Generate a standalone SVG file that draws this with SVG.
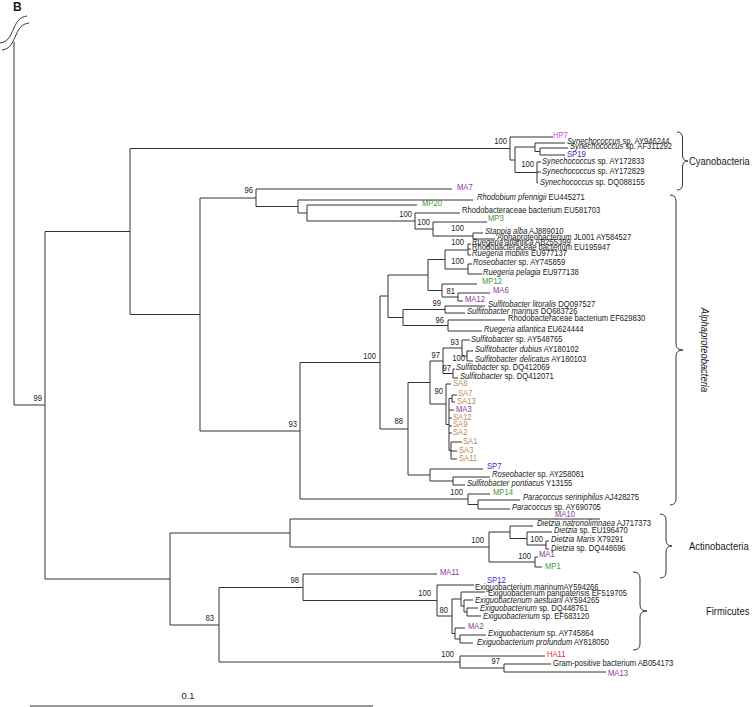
<svg xmlns="http://www.w3.org/2000/svg" width="754" height="707" viewBox="0 0 754 707">
<style>
text{font-family:"Liberation Sans",Arial,sans-serif;font-size:9.3px;fill:#1a1a1a}
.i{font-style:italic}
.bs{text-anchor:end;fill:#222}
.ma{fill:#8e35a0}.mp{fill:#3c9a3c}.sp{fill:#2e2ed0}.sa{fill:#b58b5a}.hp{fill:#e040e0}.ha{fill:#e8302a}
.grp{font-size:11.5px}
.ln{fill:none;stroke:#333;stroke-width:1}
</style>
<rect width="754" height="707" fill="#fff"/>
<text x="13" y="11" style="font-weight:bold;font-size:12px">B</text>
<g id="break" class="ln"><path d="M0,43 C9,42 11,34 14,28 C17,21 20,17 27,16"/><path d="M2,50 C11,49 13,41 16,35 C19,28 22,24 29,23"/></g>
<g id="connectors" class="ln">
<path d="M14,42V405H45"/>
<path d="M45,231.5V579M45,231.5H130M45,579H170"/>
<path d="M130,148.5V314.5M130,148.5H510M130,314.5H200"/>
<path d="M510,137V160M510,137H553M510,160H515"/>
<path d="M515,147V172.5M515,147H535M515,172.5H537"/>
<path d="M535,143V151.5M535,143H565M535,151.5H540"/>
<path d="M540,148V155M540,148H568M540,155H565"/>
<path d="M537,162V183M537,162H541M537,172H541M537,183H538"/>
<path d="M200,198V431M200,198H256M200,431H300"/>
<path d="M256,189V206.5M256,189H452M256,206.5H298"/>
<path d="M298,200V213M298,200H473M298,213H307"/>
<path d="M307,205V221M307,205H417M307,221H415"/>
<path d="M415,213V229M415,213H460M415,229H433"/>
<path d="M433,222V236M433,222H487M433,236H473"/>
<path d="M473,233V239M473,233H483M473,239H495"/>
<path d="M300,362.5V499M300,362.5H380M300,499H468"/>
<path d="M380,296V429M380,296H388M380,429H408"/>
<path d="M388,275V317.5M388,275H428M388,317.5H403"/>
<path d="M428,259.5V290.5M428,259.5H445M428,290.5H442"/>
<path d="M445,250V269M445,250H468M445,269H468"/>
<path d="M468,244V255M468,244H471M468,249H471M468,255H471"/>
<path d="M468,264V274M468,264H472M468,274H482"/>
<path d="M442,284V297M442,284H477M442,297H458"/>
<path d="M458,293V301M458,293H490M458,301H463"/>
<path d="M403,309.5V325.5M403,309.5H445M403,325.5H448"/>
<path d="M445,306V313M445,306H485M445,313H465"/>
<path d="M448,320V331M448,320H505M448,331H482"/>
<path d="M408,382.5V475M408,382.5H430M408,475H430"/>
<path d="M430,361V404M430,361H443M430,404H446"/>
<path d="M443,348V373.5M443,348H462M443,373.5H453"/>
<path d="M462,340V356M462,340H470M462,356H467"/>
<path d="M467,351V361M467,351H473M467,361H473"/>
<path d="M453,369V378M453,369H455M453,378H458"/>
<path d="M446,384V424.5M446,384H451M446,424.5H449"/>
<path d="M449,398.5V450.5M449,398.5H452M449,410H454M449,418H452M449,426H452M449,433H452M449,450.5H451"/>
<path d="M452,395V402M452,395H457M452,402H455"/>
<path d="M451,442V459M451,442H462M451,451H457M451,459H457"/>
<path d="M430,469V481M430,469H483M430,481H453"/>
<path d="M453,477V485M453,477H490M453,485H465"/>
<path d="M468,494V504.5M468,494H490M468,504.5H478"/>
<path d="M478,500V509M478,500H520M478,509H510"/>
<path d="M170,533V625M170,533H290M170,625H219"/>
<path d="M290,519V547M290,519H600M290,547H489"/>
<path d="M489,532V562M489,532H510M489,562H535"/>
<path d="M510,526V538.5M510,526H533M510,538.5H527"/>
<path d="M527,532V545M527,532H552M527,545H546"/>
<path d="M546,541V549M546,541H549M546,549H549"/>
<path d="M535,557V567M535,557H538M535,567H542"/>
<path d="M219,587.5V662M219,587.5H303M219,662H460"/>
<path d="M303,574V600.5M303,574H437M303,600.5H437"/>
<path d="M437,585V616M437,585H474M437,616H452"/>
<path d="M452,599V633.5M452,599H461M452,633.5H455"/>
<path d="M461,592V606M461,592H485M461,606H464"/>
<path d="M464,600V612M464,600H473M464,612H467"/>
<path d="M467,608V616M467,608H478M467,616H481"/>
<path d="M455,628V639M455,628H465M455,639H460"/>
<path d="M460,635V643M460,635H486M460,643H473"/>
<path d="M460,656V668M460,656H545M460,668H504"/>
<path d="M504,664V672M504,664H551M504,672H606"/>
</g>
<g id="bootstrap" transform="scale(0.82 1)">
<text class="bs" x="51.2" y="401">99</text>
<text class="bs" x="618.3" y="144">100</text>
<text class="bs" x="651.2" y="167">100</text>
<text class="bs" x="308.5" y="193">96</text>
<text class="bs" x="502.4" y="217">100</text>
<text class="bs" x="524.4" y="225">100</text>
<text class="bs" x="565.9" y="231">100</text>
<text class="bs" x="565.9" y="245">100</text>
<text class="bs" x="565.9" y="264">100</text>
<text class="bs" x="554.9" y="294">81</text>
<text class="bs" x="537.8" y="306">99</text>
<text class="bs" x="541.5" y="323">96</text>
<text class="bs" x="458.5" y="359">100</text>
<text class="bs" x="559.8" y="345">93</text>
<text class="bs" x="567.1" y="361">100</text>
<text class="bs" x="536.6" y="358">97</text>
<text class="bs" x="550" y="371">97</text>
<text class="bs" x="540.2" y="394">90</text>
<text class="bs" x="491.5" y="424">88</text>
<text class="bs" x="564.6" y="495">100</text>
<text class="bs" x="362.2" y="427">93</text>
<text class="bs" x="590.2" y="543">100</text>
<text class="bs" x="662.2" y="542">100</text>
<text class="bs" x="647.6" y="559">100</text>
<text class="bs" x="364.6" y="583">98</text>
<text class="bs" x="525.6" y="596">100</text>
<text class="bs" x="546.3" y="613">80</text>
<text class="bs" x="261" y="621">83</text>
<text class="bs" x="553.7" y="657">100</text>
<text class="bs" x="609.8" y="664">97</text>
</g>
<g id="leaf-HP7" transform="scale(0.82 1)"><text class="hp" x="674.4" y="138">HP7</text></g>
<g id="leaf-AY946244" transform="scale(0.82 1)"><text x="691.5" y="144"><tspan class="i">Synechococcus</tspan> sp. AY946244</text></g>
<g id="leaf-AF311292" transform="scale(0.82 1)"><text x="695.1" y="149"><tspan class="i">Synechococcus</tspan> sp. AF311292</text></g>
<g id="leaf-SP19" transform="scale(0.82 1)"><text class="sp" x="691.5" y="157">SP19</text></g>
<g id="leaf-AY172833" transform="scale(0.82 1)"><text x="661" y="164"><tspan class="i">Synechococcus</tspan> sp. AY172833</text></g>
<g id="leaf-AY172829" transform="scale(0.82 1)"><text x="661" y="174"><tspan class="i">Synechococcus</tspan> sp. AY172829</text></g>
<g id="leaf-DQ088155" transform="scale(0.82 1)"><text x="658.5" y="185"><tspan class="i">Synechococcus</tspan> sp. DQ088155</text></g>
<g id="leaf-MA7" transform="scale(0.82 1)"><text class="ma" x="557.3" y="190">MA7</text></g>
<g id="leaf-EU445271" transform="scale(0.82 1)"><text x="581.7" y="200"><tspan class="i">Rhodobium pfennigii</tspan> EU445271</text></g>
<g id="leaf-MP20" transform="scale(0.82 1)"><text class="mp" x="514.6" y="206">MP20</text></g>
<g id="leaf-EU581703" transform="scale(0.82 1)"><text x="563.4" y="213">Rhodobacteraceae bacterium EU581703</text></g>
<g id="leaf-MP3" transform="scale(0.82 1)"><text class="mp" x="595.1" y="221">MP3</text></g>
<g id="leaf-AJ889010" transform="scale(0.82 1)"><text x="591.5" y="234"><tspan class="i">Stappia alba</tspan> AJ889010</text></g>
<g id="leaf-AY584527" transform="scale(0.82 1)"><text x="606.1" y="240">Alphaproteobacterium JL001 AY584527</text></g>
<g id="leaf-AB255399" transform="scale(0.82 1)"><text x="575.6" y="245"><tspan class="i">Ruegeria atlantica</tspan> AB255399</text></g>
<g id="leaf-EU195947" transform="scale(0.82 1)"><text x="575.6" y="250">Rhodobacteraceae bacterium EU195947</text></g>
<g id="leaf-EU977137" transform="scale(0.82 1)"><text x="575.6" y="256"><tspan class="i">Ruegeria mobilis</tspan> EU977137</text></g>
<g id="leaf-AY745859" transform="scale(0.82 1)"><text x="576.8" y="265"><tspan class="i">Roseobacter</tspan> sp. AY745859</text></g>
<g id="leaf-EU977138" transform="scale(0.82 1)"><text x="589" y="275"><tspan class="i">Ruegeria pelagia</tspan> EU977138</text></g>
<g id="leaf-MP12" transform="scale(0.82 1)"><text class="mp" x="587.8" y="284">MP12</text></g>
<g id="leaf-MA6" transform="scale(0.82 1)"><text class="ma" x="601.2" y="293">MA6</text></g>
<g id="leaf-MA12" transform="scale(0.82 1)"><text class="ma" x="567.1" y="302">MA12</text></g>
<g id="leaf-DQ097527" transform="scale(0.82 1)"><text x="595.1" y="307"><tspan class="i">Sulfitobacter litoralis</tspan> DQ097527</text></g>
<g id="leaf-DQ683726" transform="scale(0.82 1)"><text x="569.5" y="314"><tspan class="i">Sulfitobacter marinus</tspan> DQ683726</text></g>
<g id="leaf-EF629830" transform="scale(0.82 1)"><text x="619.5" y="321">Rhodobacteraceae bacterium EF629830</text></g>
<g id="leaf-EU624444" transform="scale(0.82 1)"><text x="590.2" y="332"><tspan class="i">Ruegeria atlantica</tspan> EU624444</text></g>
<g id="leaf-AY548765" transform="scale(0.82 1)"><text x="574.4" y="342"><tspan class="i">Sulfitobacter</tspan> sp. AY548765</text></g>
<g id="leaf-AY180102" transform="scale(0.82 1)"><text x="579.3" y="352"><tspan class="i">Sulfitobacter dubius</tspan> AY180102</text></g>
<g id="leaf-AY180103" transform="scale(0.82 1)"><text x="579.3" y="362"><tspan class="i">Sulfitobacter delicatus</tspan> AY180103</text></g>
<g id="leaf-DQ412069" transform="scale(0.82 1)"><text x="556.1" y="370"><tspan class="i">Sulfitobacter</tspan> sp. DQ412069</text></g>
<g id="leaf-DQ412071" transform="scale(0.82 1)"><text x="561" y="379"><tspan class="i">Sulfitobacter</tspan> sp. DQ412071</text></g>
<g id="leaf-SA8" transform="scale(0.82 1)"><text class="sa" x="552.4" y="386">SA8</text></g>
<g id="leaf-SA7" transform="scale(0.82 1)"><text class="sa" x="558.5" y="396">SA7</text></g>
<g id="leaf-SA13" transform="scale(0.82 1)"><text class="sa" x="557.3" y="404">SA13</text></g>
<g id="leaf-MA3" transform="scale(0.82 1)"><text class="ma" x="556.1" y="412">MA3</text></g>
<g id="leaf-SA12" transform="scale(0.82 1)"><text class="sa" x="552.4" y="420">SA12</text></g>
<g id="leaf-SA9" transform="scale(0.82 1)"><text class="sa" x="552.4" y="427">SA9</text></g>
<g id="leaf-SA2" transform="scale(0.82 1)"><text class="sa" x="552.4" y="435">SA2</text></g>
<g id="leaf-SA1" transform="scale(0.82 1)"><text class="sa" x="564.6" y="444">SA1</text></g>
<g id="leaf-SA3" transform="scale(0.82 1)"><text class="sa" x="559.8" y="453">SA3</text></g>
<g id="leaf-SA11" transform="scale(0.82 1)"><text class="sa" x="559.8" y="461">SA11</text></g>
<g id="leaf-SP7" transform="scale(0.82 1)"><text class="sp" x="593.9" y="469">SP7</text></g>
<g id="leaf-AY258081" transform="scale(0.82 1)"><text x="600" y="477"><tspan class="i">Roseobacter</tspan> sp. AY258081</text></g>
<g id="leaf-Y13155" transform="scale(0.82 1)"><text x="569.5" y="486"><tspan class="i">Sulfitobacter pontiacus</tspan> Y13155</text></g>
<g id="leaf-MP14" transform="scale(0.82 1)"><text class="mp" x="601.2" y="495">MP14</text></g>
<g id="leaf-AJ428275" transform="scale(0.82 1)"><text x="637.8" y="500"><tspan class="i">Paracoccus seriniphilus</tspan> AJ428275</text></g>
<g id="leaf-AY690705" transform="scale(0.82 1)"><text x="624.4" y="510"><tspan class="i">Paracoccus</tspan> sp. AY690705</text></g>
<g id="leaf-MA10" transform="scale(0.82 1)"><text class="ma" x="676.8" y="517">MA10</text></g>
<g id="leaf-AJ717373" transform="scale(0.82 1)"><text x="654.9" y="526"><tspan class="i">Dietzia natronolimnaea</tspan> AJ717373</text></g>
<g id="leaf-EU196470" transform="scale(0.82 1)"><text x="675.6" y="533"><tspan class="i">Dietzia</tspan> sp. EU196470</text></g>
<g id="leaf-X79291" transform="scale(0.82 1)"><text x="672" y="542"><tspan class="i">Dietzia Maris</tspan> X79291</text></g>
<g id="leaf-DQ448696" transform="scale(0.82 1)"><text x="672" y="551"><tspan class="i">Dietzia</tspan> sp. DQ448696</text></g>
<g id="leaf-MA1" transform="scale(0.82 1)"><text class="ma" x="657.3" y="557">MA1</text></g>
<g id="leaf-MP1" transform="scale(0.82 1)"><text class="mp" x="664.6" y="569">MP1</text></g>
<g id="leaf-MA11" transform="scale(0.82 1)"><text class="ma" x="536.6" y="575">MA11</text></g>
<g id="leaf-SP12" transform="scale(0.82 1)"><text class="sp" x="593.9" y="583">SP12</text></g>
<g id="leaf-AY594266" transform="scale(0.82 1)"><text x="579.3" y="590">Exiguobacterium marinumAY594266</text></g>
<g id="leaf-EF519705" transform="scale(0.82 1)"><text x="595.1" y="596">Exiguobacterium panipatensis EF519705</text></g>
<g id="leaf-AY594265" transform="scale(0.82 1)"><text x="579.3" y="603"><tspan class="i">Exiguobacterium aestuarii</tspan> AY594265</text></g>
<g id="leaf-DQ448761" transform="scale(0.82 1)"><text x="585.4" y="611"><tspan class="i">Exiguobacterium</tspan> sp. DQ448761</text></g>
<g id="leaf-EF683120" transform="scale(0.82 1)"><text x="589" y="619"><tspan class="i">Exiguobacterium</tspan> sp. EF683120</text></g>
<g id="leaf-MA2" transform="scale(0.82 1)"><text class="ma" x="570.7" y="629">MA2</text></g>
<g id="leaf-AY745864" transform="scale(0.82 1)"><text x="595.1" y="636"><tspan class="i">Exiguobacterium</tspan> sp. AY745864</text></g>
<g id="leaf-AY818050" transform="scale(0.82 1)"><text x="581.7" y="645"><tspan class="i">Exiguobacterium profundum</tspan> AY818050</text></g>
<g id="leaf-HA11" transform="scale(0.82 1)"><text class="ha" x="667.1" y="657">HA11</text></g>
<g id="leaf-AB054173" transform="scale(0.82 1)"><text x="674.4" y="666">Gram-positive bacterium AB054173</text></g>
<g id="leaf-MA13" transform="scale(0.82 1)"><text class="ma" x="741.5" y="676">MA13</text></g>
<g id="group-Cyanobacteria"><path class="ln" d="M677,132Q682.5,132 682.5,138V155Q682.5,161 688,161Q682.5,161 682.5,167V184Q682.5,190 677,190"/><text class="grp" transform="translate(689,165) scale(0.82,1)">Cyanobacteria</text></g>
<g id="group-Alphaproteobacteria"><path class="ln" d="M670,195Q676,195 676,201V344Q676,350 683,350Q676,350 676,356V499Q676,505 670,505"/><text class="grp i" text-anchor="middle" transform="translate(701,350) rotate(90) scale(0.82,1)">Alphaproteobacteria</text></g>
<g id="group-Actinobacteria"><path class="ln" d="M660,514Q666,514 666,520V540Q666,546 672,546Q666,546 666,552V572Q666,578 660,578"/><text class="grp" transform="translate(689,550) scale(0.82,1)">Actinobacteria</text></g>
<g id="group-Firmicutes"><path class="ln" d="M633,572Q640,572 640,578V605Q640,611 647,611Q640,611 640,617V644Q640,650 633,650"/><text class="grp" transform="translate(706,615) scale(0.82,1)">Firmicutes</text></g>
<g id="scale"><path class="ln" d="M30,706H373"/><text x="188" y="699" text-anchor="middle">0.1</text></g>
</svg>
